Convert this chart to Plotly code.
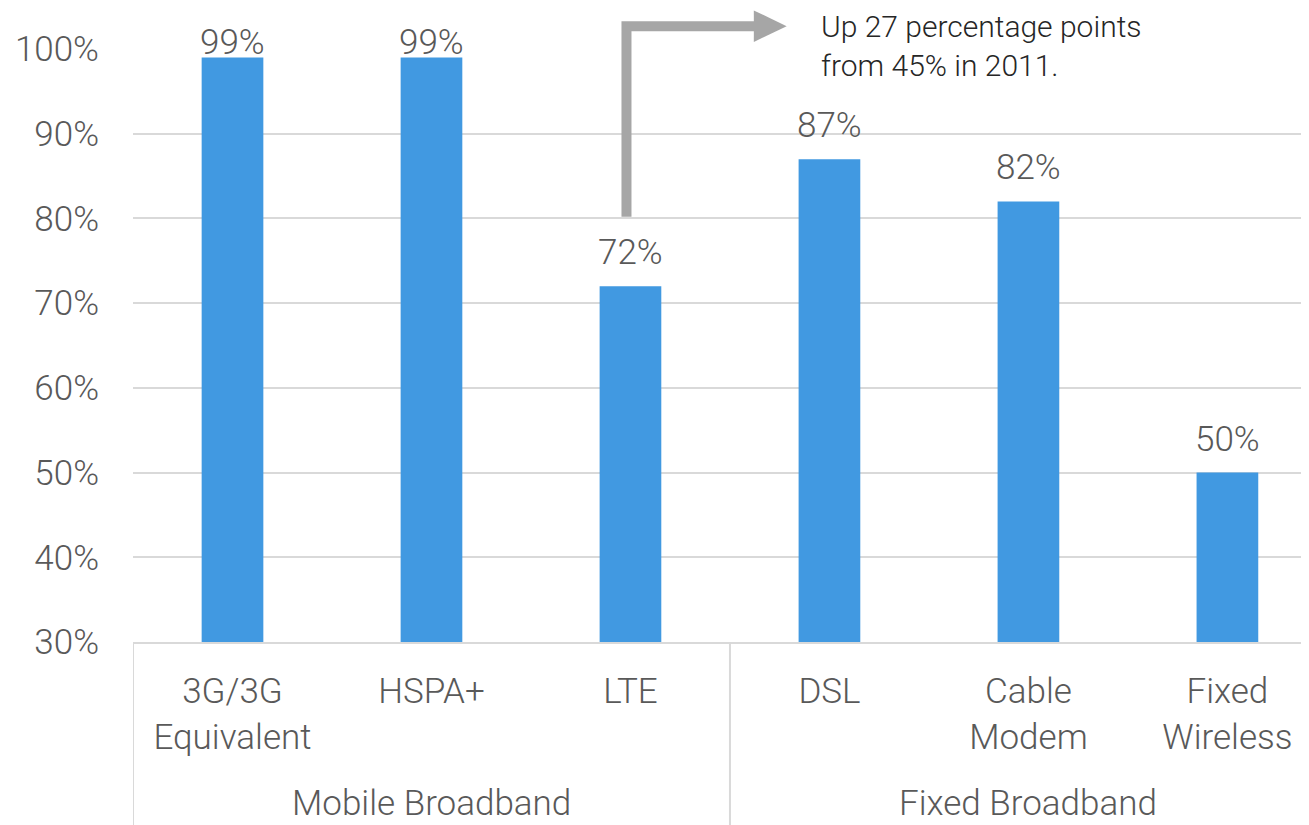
import plotly.graph_objects as go

categories = ["3G/3G<br>Equivalent", "HSPA+", "LTE", "DSL", "Cable<br>Modem", "Fixed<br>Wireless"]
groups = ["Mobile Broadband", "Fixed Broadband"]
group_sizes = [3, 3]
values = [99, 99, 72, 87, 82, 50]
y_ticks = [30, 40, 50, 60, 70, 80, 90, 100]
note_text = "Up 27 percentage points<br>from 45% in 2011."
lte_index = 2

BAR = "#4199E1"
TXT = "#595959"
GRID = "#D9D9D9"
FONT = "Roboto, Liberation Sans, sans-serif"
W = 300

xs = list(range(len(categories)))
x_min, x_max = -0.5, 5.41
y_min, y_max = 30, 100

fig = go.Figure()
fig.add_trace(go.Bar(x=xs, y=values, width=0.31, marker=dict(color=BAR, line=dict(width=0)),
                     hoverinfo="skip"))

# data labels
for x, v in zip(xs, values):
    fig.add_annotation(x=x, y=v, xref="x", yref="y", text=f"{v}%", showarrow=False,
                       yanchor="bottom", yshift=(-8 if v > 95 else 11),
                       font=dict(family=FONT, size=35, color=TXT, weight=W))

# group labels and separators
start = 0
for g, n in zip(groups, group_sizes):
    fig.add_annotation(x=start + (n - 1) / 2, y=-0.273, xref="x", yref="paper", text=g,
                       showarrow=False, yanchor="middle",
                       font=dict(family=FONT, size=35, color=TXT, weight=W))
    fig.add_shape(type="line", xref="x", yref="paper", x0=start - 0.5, x1=start - 0.5,
                  y0=0, y1=-0.32, line=dict(color=GRID, width=2))
    start += n

# arrow annotation (paper coords derived from LTE position)
def xp(xd):
    return (xd - x_min) / (x_max - x_min)

def yp(yd):
    return (yd - y_min) / (y_max - y_min)

ax = xp(lte_index - 0.02)
ay0 = yp(values[lte_index] + 8.2)
ay1 = 1.0385
hx0 = xp(lte_index + 0.62)
hx1 = xp(lte_index + 0.785)
fig.add_shape(type="path", xref="paper", yref="paper",
              path=f"M {ax} {ay0} L {ax} {ay1} L {hx0 + 0.002} {ay1}",
              line=dict(color="#A6A6A6", width=10))
fig.add_shape(type="path", xref="paper", yref="paper",
              path=f"M {hx0} {ay1 + 0.0265} L {hx1} {ay1} L {hx0} {ay1 - 0.0265} Z",
              fillcolor="#A6A6A6", line=dict(width=0))
fig.add_annotation(x=xp(lte_index + 0.955), y=1.069, xref="paper", yref="paper",
                   text=note_text, showarrow=False, xanchor="left", yanchor="top", align="left",
                   borderpad=0,
                   font=dict(family=FONT, size=30, color="#262626", weight=W))

fig.update_layout(
    width=1301, height=817,
    margin=dict(l=125, r=0, t=41, b=183),
    plot_bgcolor="white", paper_bgcolor="white",
    showlegend=False,
    xaxis=dict(range=[x_min, x_max], tickvals=xs, ticktext=categories, showgrid=False,
               zeroline=False, showline=True, linecolor=GRID, linewidth=2, ticks="",
               tickfont=dict(family=FONT, size=35, color=TXT, weight=W), ticklabelstandoff=17),
    yaxis=dict(range=[y_min, y_max], tickvals=y_ticks, ticktext=[f"{t}%" for t in y_ticks],
               showgrid=True, gridcolor=GRID, gridwidth=2, zeroline=False, showline=False,
               ticks="", tickfont=dict(family=FONT, size=35, color=TXT, weight=W),
               ticklabelstandoff=33),
)

fig.write_html("out.html")
